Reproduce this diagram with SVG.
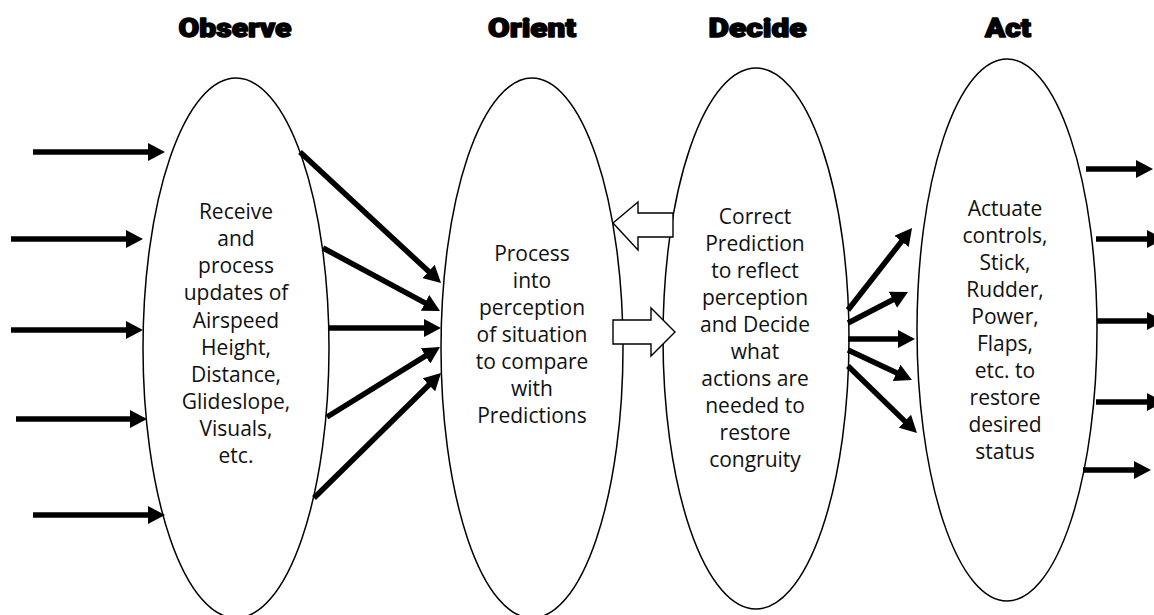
<svg xmlns="http://www.w3.org/2000/svg" width="1154" height="615" viewBox="0 0 1154 615">
<style>
.title{font-family:Roboto,"Liberation Sans",sans-serif;font-weight:900;font-size:26px;fill:#000;stroke:#000;stroke-width:1.4;stroke-linejoin:round;text-anchor:middle}
.body{font-family:"Open Sans","Noto Sans",sans-serif;font-size:21px;fill:#111;text-anchor:middle}
.ell{fill:#fff;stroke:#000;stroke-width:1.5}
.arr{stroke:#000;stroke-width:5.5;fill:none;marker-end:url(#ah)}
.hollow{fill:#fff;stroke:#000;stroke-width:1.4;stroke-linejoin:miter}
</style>
<defs>
<marker id="ah" markerUnits="userSpaceOnUse" markerWidth="17" markerHeight="18" refX="1" refY="9" orient="auto">
<path d="M0,0 L17,9 L0,18 z" fill="#000"/>
</marker>
</defs>
<rect width="1154" height="615" fill="#fff"/>

<g id="observe">
<ellipse class="ell" cx="236" cy="348" rx="93" ry="270"/>
<text class="title" x="235" y="37" textLength="113" lengthAdjust="spacingAndGlyphs">Observe</text>
<text class="body" x="236" y="219">Receive</text>
<text class="body" x="236" y="246">and</text>
<text class="body" x="236" y="273">process</text>
<text class="body" x="236" y="300">updates of</text>
<text class="body" x="236" y="328">Airspeed</text>
<text class="body" x="236" y="355">Height,</text>
<text class="body" x="236" y="382">Distance,</text>
<text class="body" x="236" y="409">Glideslope,</text>
<text class="body" x="236" y="436">Visuals,</text>
<text class="body" x="236" y="463">etc.</text>
</g>

<g id="orient">
<ellipse class="ell" cx="532" cy="348" rx="91" ry="270"/>
<text class="title" x="532" y="37" textLength="88" lengthAdjust="spacingAndGlyphs">Orient</text>
<text class="body" x="532" y="261">Process</text>
<text class="body" x="532" y="288">into</text>
<text class="body" x="532" y="315">perception</text>
<text class="body" x="532" y="342">of situation</text>
<text class="body" x="532" y="369">to compare</text>
<text class="body" x="532" y="396">with</text>
<text class="body" x="532" y="423">Predictions</text>
</g>

<g id="decide">
<ellipse class="ell" cx="756" cy="338.5" rx="93" ry="270.5"/>
<text class="title" x="757.5" y="37" textLength="98" lengthAdjust="spacingAndGlyphs">Decide</text>
<text class="body" x="755" y="224">Correct</text>
<text class="body" x="755" y="251">Prediction</text>
<text class="body" x="755" y="278">to reflect</text>
<text class="body" x="755" y="305">perception</text>
<text class="body" x="755" y="332">and Decide</text>
<text class="body" x="755" y="359">what</text>
<text class="body" x="755" y="386">actions are</text>
<text class="body" x="755" y="413">needed to</text>
<text class="body" x="755" y="440">restore</text>
<text class="body" x="755" y="467">congruity</text>
</g>

<g id="act">
<ellipse class="ell" cx="1007" cy="330" rx="90" ry="271"/>
<text class="title" x="1008" y="37" textLength="46" lengthAdjust="spacingAndGlyphs">Act</text>
<text class="body" x="1005" y="216">Actuate</text>
<text class="body" x="1005" y="243">controls,</text>
<text class="body" x="1005" y="270">Stick,</text>
<text class="body" x="1005" y="297">Rudder,</text>
<text class="body" x="1005" y="324">Power,</text>
<text class="body" x="1005" y="351">Flaps,</text>
<text class="body" x="1005" y="378">etc. to</text>
<text class="body" x="1005" y="405">restore</text>
<text class="body" x="1005" y="432">desired</text>
<text class="body" x="1005" y="459">status</text>
</g>

<g id="connectors">
<line class="arr" x1="33" y1="152" x2="149" y2="152"/>
<line class="arr" x1="11" y1="239" x2="127" y2="239"/>
<line class="arr" x1="11" y1="330" x2="127" y2="330"/>
<line class="arr" x1="16" y1="419" x2="131" y2="419"/>
<line class="arr" x1="33" y1="515" x2="149" y2="515"/>

<line class="arr" x1="300" y1="152" x2="429.3" y2="272.1"/>
<line class="arr" x1="323" y1="248" x2="425.9" y2="303.4"/>
<line class="arr" x1="328" y1="328" x2="425" y2="328"/>
<line class="arr" x1="327" y1="417" x2="426.4" y2="355.4"/>
<line class="arr" x1="314" y1="498" x2="429.6" y2="384.2"/>

<path class="hollow" d="M613,223 L638,202 L638,213 L673,213 L673,237 L638,237 L638,250 Z"/>
<path class="hollow" d="M613,320 L651,320 L651,308 L675,332 L651,356 L651,344 L613,344 Z"/>

<line class="arr" x1="848" y1="310" x2="902.2" y2="240.6"/>
<line class="arr" x1="848" y1="323" x2="893.8" y2="299.3"/>
<line class="arr" x1="848" y1="339" x2="899" y2="339"/>
<line class="arr" x1="848" y1="350" x2="897.5" y2="373.2"/>
<line class="arr" x1="848" y1="366" x2="905.5" y2="421.9"/>

<line class="arr" x1="1086" y1="169" x2="1137" y2="169"/>
<line class="arr" x1="1096" y1="239" x2="1148" y2="239"/>
<line class="arr" x1="1097" y1="321" x2="1148" y2="321"/>
<line class="arr" x1="1096" y1="402" x2="1148" y2="402"/>
<line class="arr" x1="1083" y1="470" x2="1135" y2="470"/>
</g>
</svg>
